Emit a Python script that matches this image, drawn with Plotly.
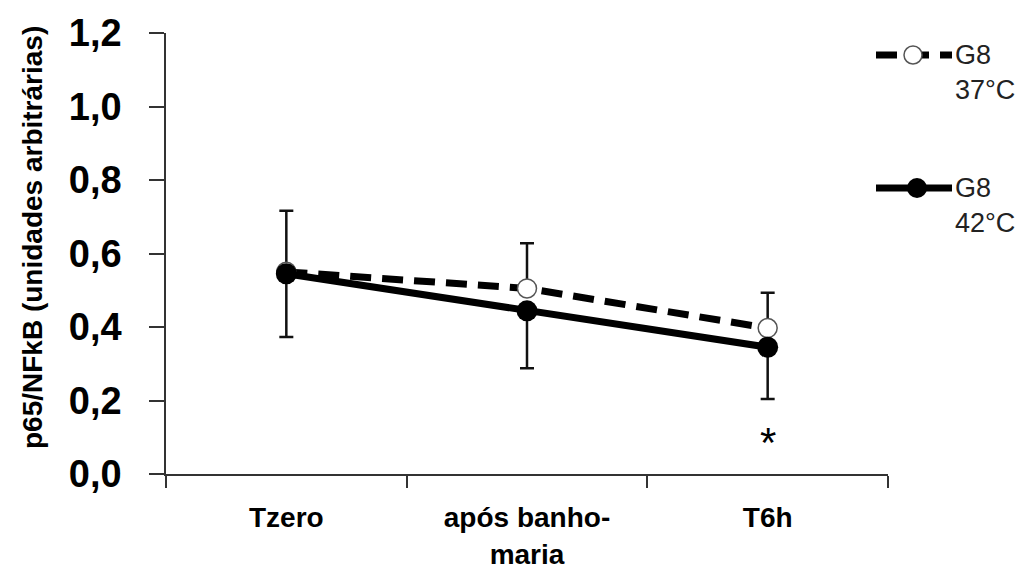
import plotly.graph_objects as go

categories = ["Tzero", "após banho-<br>maria", "T6h"]
g8_37 = [0.55, 0.505, 0.397]
g8_37_err_up = [0.166, 0.123, 0.096]
g8_42 = [0.545, 0.444, 0.345]
g8_42_err_down = [0.172, 0.156, 0.141]
y_tickvals = [0.0, 0.2, 0.4, 0.6, 0.8, 1.0, 1.2]
y_ticktext = ["0,0", "0,2", "0,4", "0,6", "0,8", "1,0", "1,2"]
legend_names = ["G8<br>37°C", "G8<br>42°C"]

W, H = 1026, 571
L, R, T, B = 166, 888, 33, 474
FONT = "Liberation Sans, Arial, sans-serif"


def px(x):
    return (x - L) / (R - L)


def py(y):
    return (B - y) / (B - T)


fig = go.Figure()

fig.add_trace(go.Scatter(
    x=categories, y=g8_37, mode="lines+markers", name=legend_names[0],
    line=dict(color="black", width=7, dash="21px,11px"),
    marker=dict(size=19, color="white", line=dict(color="#555555", width=1.5)),
    error_y=dict(type="data", symmetric=False, array=g8_37_err_up,
                 arrayminus=[0] * len(g8_37), color="#111111", thickness=2.5, width=7),
))
fig.add_trace(go.Scatter(
    x=categories, y=g8_42, mode="lines+markers", name=legend_names[1],
    line=dict(color="black", width=7),
    marker=dict(size=21, color="black", line=dict(color="black", width=0)),
    error_y=dict(type="data", symmetric=False, array=[0] * len(g8_42),
                 arrayminus=g8_42_err_down, color="#111111", thickness=2.5, width=7),
))

shapes = []
annotations = []
# legend item 1 (dashed, open circle)
ly1 = 55
shapes.append(dict(type="line", xref="paper", yref="paper",
                   x0=px(876), x1=px(952), y0=py(ly1), y1=py(ly1),
                   line=dict(color="black", width=7, dash="21px,11px")))
shapes.append(dict(type="circle", xref="paper", yref="paper",
                   x0=px(904), x1=px(922), y0=py(ly1 + 9), y1=py(ly1 - 9),
                   fillcolor="white", line=dict(color="#555555", width=1.5)))
annotations.append(dict(xref="paper", yref="paper", x=px(953), y=py(72),
                        xanchor="left", yanchor="middle", align="left",
                        text=legend_names[0], showarrow=False,
                        font=dict(family=FONT, size=27, color="#222222")))
# legend item 2 (solid, filled circle)
ly2 = 188
shapes.append(dict(type="line", xref="paper", yref="paper",
                   x0=px(876), x1=px(952), y0=py(ly2), y1=py(ly2),
                   line=dict(color="black", width=7)))
shapes.append(dict(type="circle", xref="paper", yref="paper",
                   x0=px(907), x1=px(927), y0=py(ly2 + 10), y1=py(ly2 - 10),
                   fillcolor="black", line=dict(color="black", width=0)))
annotations.append(dict(xref="paper", yref="paper", x=px(953), y=py(205),
                        xanchor="left", yanchor="middle", align="left",
                        text=legend_names[1], showarrow=False,
                        font=dict(family=FONT, size=27, color="#222222")))
# asterisk
annotations.append(dict(x=categories[2], y=0.085, xref="x", yref="y",
                        text="*", showarrow=False,
                        font=dict(family=FONT, size=42, color="black")))
# y title
annotations.append(dict(xref="paper", yref="paper", x=px(32), y=py(238),
                        textangle=-90, text="<b>p65/NFkB (unidades arbitrárias)</b>",
                        showarrow=False, xanchor="center", yanchor="middle",
                        font=dict(family=FONT, size=28, color="black")))

fig.update_layout(
    width=W, height=H,
    margin=dict(l=L, r=W - R, t=T, b=H - B, autoexpand=False),
    paper_bgcolor="white", plot_bgcolor="white",
    showlegend=False,
    shapes=shapes, annotations=annotations,
    font=dict(family=FONT, color="black"),
)
fig.update_xaxes(
    type="category", range=[-0.5, 2.5], automargin=False,
    showline=True, linecolor="#333333", linewidth=1.5,
    ticks="outside", ticklen=12, tickwidth=1.5, tickcolor="#333333",
    tickson="boundaries", showgrid=False, zeroline=False,
    tickfont=dict(family=FONT, size=28, color="black", weight="bold"),
    ticklabelstandoff=18,
)
fig.update_yaxes(
    range=[0, 1.2], tickvals=y_tickvals, ticktext=y_ticktext, automargin=False,
    showline=True, linecolor="#333333", linewidth=1.5,
    ticks="outside", ticklen=15, tickwidth=1.5, tickcolor="#333333",
    showgrid=False, zeroline=False,
    tickfont=dict(family=FONT, size=38, color="black", weight="bold"),
    ticklabelstandoff=20,
)

fig.write_html("out.html")
